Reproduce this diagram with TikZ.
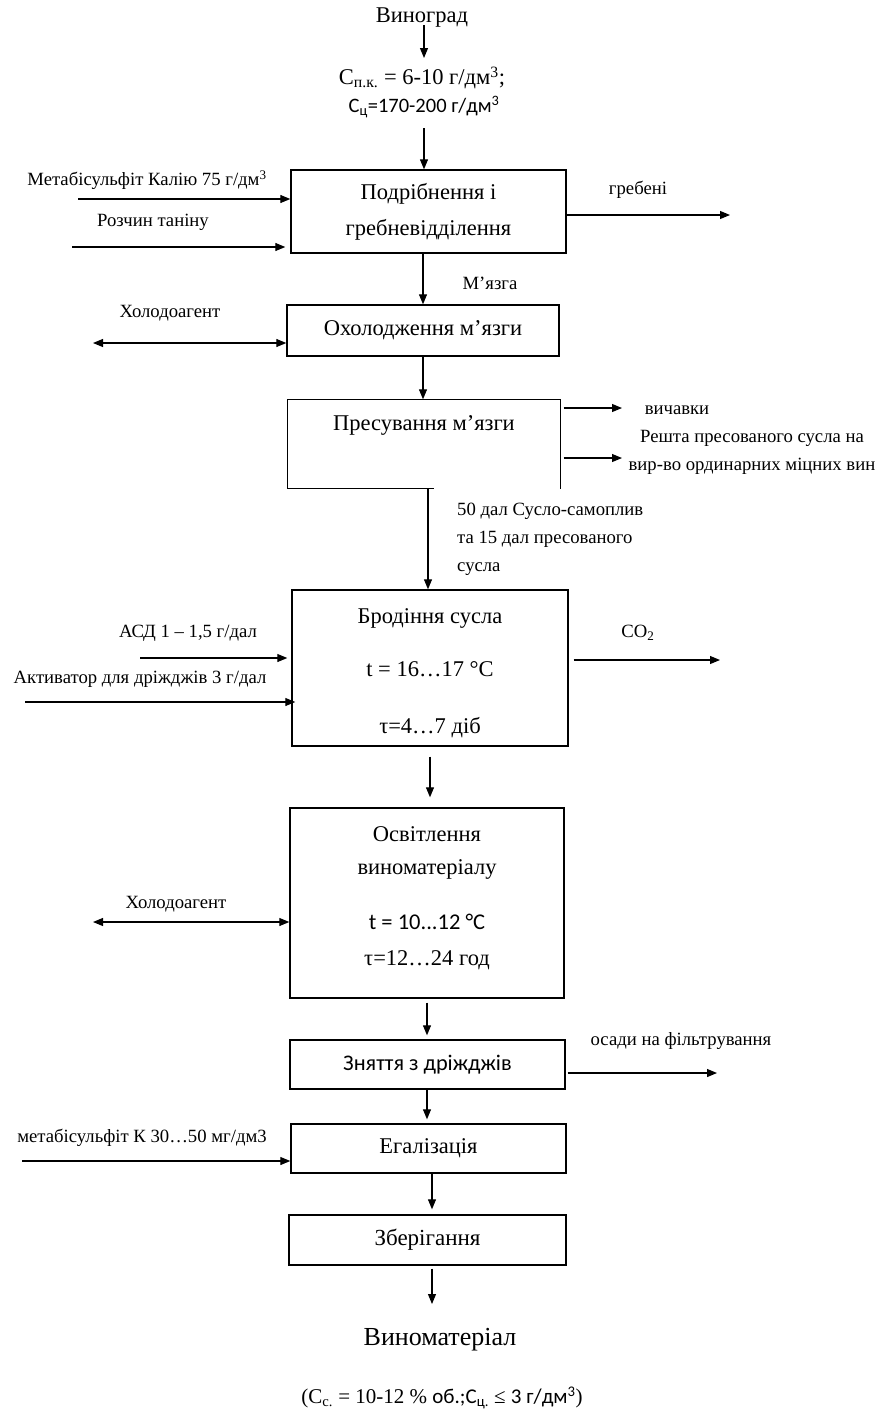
\documentclass[tikz,border=0pt]{standalone}
\usepackage{fontspec}
\setmainfont{Liberation Serif}
\newfontfamily\sanscyr{Carlito}
\usepackage{tikz}
\usetikzlibrary{arrows.meta}

\newcommand\boxfont{\fontsize{22.5}{36}\selectfont}
\newcommand\sidefont{\fontsize{18.7}{28}\selectfont}
\newcommand\sansfont{\sanscyr\fontsize{20.5}{24}\selectfont}

\tikzset{
	stage/.style={draw=black, line width=1.4pt, inner sep=0pt, align=center, font=\boxfont},
	flow/.style={-{Triangle[length=10pt,width=8pt]}, line width=1.1pt},
	both/.style={{Triangle[length=10pt,width=8pt]}-{Triangle[length=10pt,width=8pt]}, line width=1.1pt},
	side/.style={font=\sidefont, align=center, inner sep=0pt}
}

\begin{document}
\begin{tikzpicture}[x=1pt,y=-1pt]
	\useasboundingbox (0,0) rectangle (878,1414);

	% raw material
	\node[font=\boxfont] (grape) at (422,18) {Виноград};
	\node[font=\boxfont] (sugar) at (422,78) {С\textsubscript{п.к.} = 6-10 г/дм\textsuperscript{3};};
	\node[font=\sansfont] (acid) at (424,107) {С\textsubscript{ц}=170-200 г/дм\textsuperscript{3}};
	\coordinate (g0) at (424,25);
	\coordinate (g1) at (424,58);
	\draw[flow] (g0) -- (g1);

	% stages
	\node[stage, minimum width=275pt, minimum height=83pt] (crush) at (428.5,211.5) {Подрібнення і\\гребневідділення};
	\node[stage, minimum width=272pt, minimum height=51pt] (cool) at (423,330.5) {Охолодження м’язги};
	\node[stage, draw=none, minimum width=272pt, minimum height=88pt] (press) at (424,444) {};
	\node[font=\boxfont] (presstext) at (424,425) {Пресування м’язги};
	\node[stage, minimum width=276pt, minimum height=156pt] (ferm) at (430,668) {};
	\node[font=\boxfont, align=center] (fermtext) at (430,673) {Бродіння сусла\\[17pt]t = 16…17 °C\\[21pt]τ=4…7 діб};
	\node[stage, minimum width=274pt, minimum height=190pt] (clar) at (427,903) {};
	\node[font=\boxfont, align=center] (clartext) at (427,898) {Освітлення\\[-3pt]виноматеріалу\\[19pt]{\sanscyr t = 10...12 °C}\\τ=12…24 год};
	\node[stage, font=\sanscyr\fontsize{22.3}{26}\selectfont, minimum width=275pt, minimum height=49pt] (lees) at (427.5,1064.5) {Зняття з дріжджів};
	\node[stage, minimum width=275pt, minimum height=49pt] (egal) at (428.5,1148.5) {Егалізація};
	\node[stage, font=\fontsize{23}{28}\selectfont, minimum width=277pt, minimum height=50pt] (store) at (427.5,1240) {Зберігання};

	% open outline of the press
	\draw[line width=1.4pt] (press.south east) -- (press.north east) -- (press.north west) -- (press.south west) -- ([xshift=10pt]press.south);

	% main line
	\coordinate (a0) at (424,128);
	\draw[flow] (a0) -- (a0 |- crush.north);
	\draw[flow] (cool.north |- crush.south) -- (cool.north);
	\draw[flow] (cool.south) -- (cool.south |- press.north);
	\draw[flow] ([xshift=-2pt]ferm.north |- press.south) -- ([xshift=-2pt]ferm.north);
	\draw[flow] ([yshift=-10pt]ferm.south) -- ([yshift=10pt]ferm.south |- clar.north);
	\draw[flow] ([yshift=-4pt]clar.south) -- ([yshift=4pt]clar.south |- lees.north);
	\draw[flow] ([xshift=-0.5pt]lees.south) -- ([xshift=-0.5pt,yshift=4pt]lees.south |- egal.north);
	\draw[flow] ([xshift=3.5pt]egal.south) -- ([xshift=3.5pt,yshift=5pt]egal.south |- store.north);
	\coordinate (p0) at (432,1304);
	\draw[flow] ([yshift=-3pt]store.south -| p0) -- (p0);

	% inputs and outputs
	\node[side] (met) at (147,180) {Метабісульфіт Калію 75 г/дм\textsuperscript{3}};
	\coordinate (metin) at (78,199);
	\draw[flow] (metin) -- (metin -| crush.west);
	\node[side] (tan) at (153,222) {Розчин таніну};
	\coordinate (tanin) at (72,247);
	\draw[flow] (tanin) -- ([xshift=-5pt]tanin -| crush.west);

	\node[side] (stems) at (638,190) {гребені};
	\coordinate (stemsout) at (730,215);
	\draw[flow] (stemsout -| crush.east) -- (stemsout);

	\node[side] (must) at (490,283) {М’язга};

	\node[side] (cold1) at (170,313) {Холодоагент};
	\coordinate (cold1in) at (93,343);
	\draw[both] (cold1in) -- (cold1in -| cool.west);

	\node[side] (pomace) at (677,410) {вичавки};
	\coordinate (pomaceout) at (622,408);
	\draw[flow] ([xshift=3pt]pomaceout -| press.east) -- (pomaceout);
	\node[side] (rest) at (752,452) {Решта пресованого сусла на\\вир-во ординарних міцних вин};
	\coordinate (restout) at (622,458);
	\draw[flow] ([xshift=3pt]restout -| press.east) -- (restout);

	\node[side, anchor=west, align=left] (free) at (457,539) {50 дал Сусло-самоплив\\та 15 дал пресованого\\сусла};

	\node[side] (asd) at (188,633) {АСД 1 – 1,5 г/дал};
	\coordinate (asdin) at (140,658);
	\draw[flow] (asdin) -- ([xshift=-4pt]asdin -| ferm.west);
	\node[side] (act) at (140,679) {Активатор для дріжджів 3 г/дал};
	\coordinate (actin) at (25,702);
	\draw[flow] (actin) -- ([xshift=4pt]actin -| ferm.west);

	\node[side] (co2) at (638,633) {CO\textsubscript{2}};
	\coordinate (co2out) at (720,660);
	\draw[flow] ([xshift=5pt]co2out -| ferm.east) -- (co2out);

	\node[side] (cold2) at (176,904) {Холодоагент};
	\coordinate (cold2in) at (93,922);
	\draw[both] (cold2in) -- (cold2in -| clar.west);

	\node[side] (sediment) at (681,1041) {осади на  фільтрування};
	\coordinate (sedout) at (717,1073);
	\draw[flow] ([xshift=2pt]sedout -| lees.east) -- (sedout);

	\node[side] (sulf) at (142,1138) {метабісульфіт К 30…50 мг/дм3};
	\coordinate (sulfin) at (22,1161);
	\draw[flow] (sulfin) -- (sulfin -| egal.west);

	% product
	\node[font=\fontsize{26}{30}\selectfont] (product) at (440,1340) {Виноматеріал};
	\node[font=\fontsize{21}{24}\selectfont] (spec) at (442,1398) {(С\textsubscript{с.} = 10-12 \% {\sanscyr об.;С\textsubscript{ц.}} ≤ {\sanscyr 3 г/дм\textsuperscript{3}})};
\end{tikzpicture}
\end{document}
